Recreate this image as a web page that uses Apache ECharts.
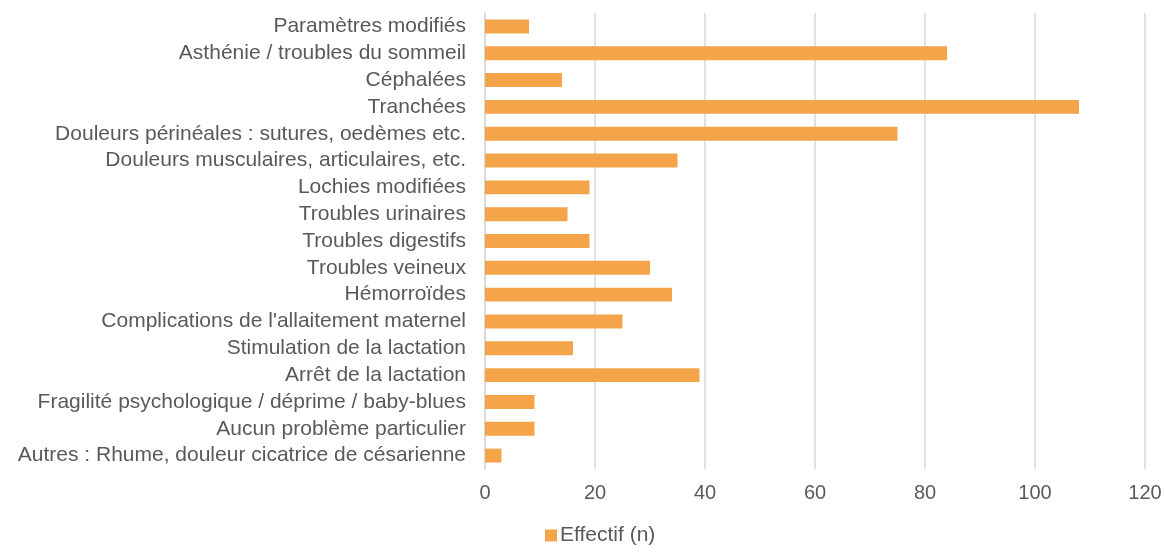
<!DOCTYPE html>
<html>
<head>
<meta charset="utf-8">
<script src="https://cdn.jsdelivr.net/npm/echarts@6/dist/echarts.min.js"></script>
<style>html,body{margin:0;padding:0;background:#fff;}#c{width:1165px;height:552px;}</style>
</head>
<body>
<div id="c"></div>
<script>
const categories = [
  "Paramètres modifiés",
  "Asthénie / troubles du sommeil",
  "Céphalées",
  "Tranchées",
  "Douleurs périnéales : sutures, oedèmes etc.",
  "Douleurs musculaires, articulaires, etc.",
  "Lochies modifiées",
  "Troubles urinaires",
  "Troubles digestifs",
  "Troubles veineux",
  "Hémorroïdes",
  "Complications de l'allaitement maternel",
  "Stimulation de la lactation",
  "Arrêt de la lactation",
  "Fragilité psychologique / déprime / baby-blues",
  "Aucun problème particulier",
  "Autres : Rhume, douleur cicatrice de césarienne"
];
const effectif = [8, 84, 14, 108, 75, 35, 19, 15, 19, 30, 34, 25, 16, 39, 9, 9, 3];
const seriesName = "Effectif (n)";

const chart = echarts.init(document.getElementById('c'));
chart.setOption({
  animation: false,
  textStyle: { fontFamily: "Liberation Sans, Arial, sans-serif" },
  grid: { left: 485, right: 20, top: 13, bottom: 83, containLabel: false },
  legend: {
    data: [seriesName],
    left: 540, bottom: 1,
    itemWidth: 12, itemHeight: 12, itemGap: 4,
    icon: 'rect',
    textStyle: { color: '#595959', fontSize: 21, padding: [0, 0, 0, -2], fontFamily: "Liberation Sans, Arial, sans-serif" }
  },
  xAxis: {
    type: 'value', min: 0, max: 120, interval: 20,
    axisLine: { show: false }, axisTick: { show: false },
    splitLine: { lineStyle: { color: '#d9d9d9', width: 1.5 } },
    axisLabel: { color: '#595959', fontSize: 20, margin: 14 }
  },
  yAxis: {
    type: 'category', data: categories, inverse: true,
    axisLine: { show: true, lineStyle: { color: '#d9d9d9', width: 1.5 } },
    axisTick: { show: false },
    axisLabel: { color: '#595959', fontSize: 21, margin: 19, interval: 0 }
  },
  series: [{
    name: seriesName, type: 'bar', data: effectif,
    barCategoryGap: '48%',
    itemStyle: { color: '#F4A54A' }
  }]
});
</script>
</body>
</html>
